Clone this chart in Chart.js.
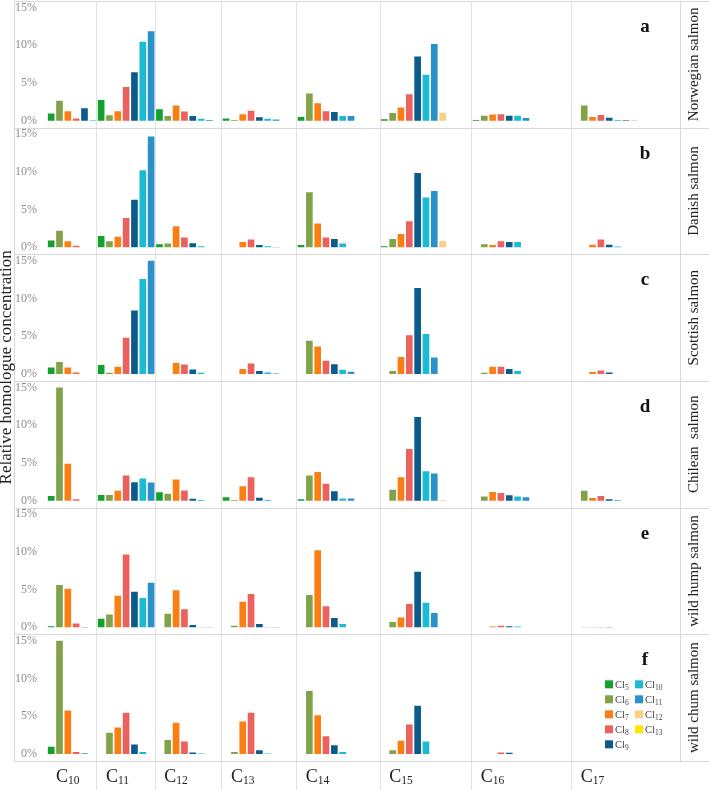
<!DOCTYPE html>
<html><head><meta charset="utf-8">
<script src="https://cdn.jsdelivr.net/npm/chart.js@4/dist/chart.umd.min.js"></script>
<style>html,body{margin:0;padding:0;background:#fff;}#wrap{width:709px;height:790px;}</style>
</head><body><div id="wrap"><canvas id="c" width="709" height="790" style="width:709px;height:790px"></canvas></div>
<script>
// ---- data ----
const categories = ['C10','C11','C12','C13','C14','C15','C16','C17'];
const carbonNumbers = [10,11,12,13,14,15,16,17];
const series = ['Cl5','Cl6','Cl7','Cl8','Cl9','Cl10','Cl11','Cl12','Cl13'];
const chlorineNumbers = [5,6,7,8,9,10,11,12,13];
const seriesColors = ['#12a12a','#82a24a','#fb7e12','#ea615e','#0b5b8b','#1bbbd4','#2b92c9','#fece82','#ffe600'];
const panelNames = ['Norwegian salmon','Danish salmon','Scottish salmon','Chilean  salmon','wild hump salmon','wild chum salmon'];
const panelLetters = ['a','b','c','d','e','f'];
const yTickValues = [0,5,10,15];

// rows: C10..C17, columns: Cl5..Cl13 (relative concentration, %)
const norwegian = [
  [0.95,2.65,1.25,0.3,1.65,0.05],
  [2.75,0.7,1.25,4.45,6.4,10.45,11.85],
  [1.5,0.6,2.0,1.2,0.6,0.25,0.1],
  [0.3,0.1,0.85,1.3,0.45,0.25,0.15],
  [0.5,3.6,2.3,1.25,1.15,0.6,0.6],
  [0.2,1.0,1.75,3.5,8.5,6.1,10.15,1.05],
  [0.1,0.65,0.8,0.85,0.65,0.65,0.35],
  [null,2.0,0.5,0.75,0.4,0.1,0.1,0.08]
];
const danish = [
  [0.9,2.2,0.8,0.2],
  [1.5,0.8,1.4,3.9,6.3,10.2,14.7],
  [0.4,0.5,2.8,1.3,0.55,0.15],
  [null,null,0.7,1.05,0.3,0.15,0.05],
  [0.3,7.3,3.15,1.3,1.1,0.5],
  [0.15,1.1,1.75,3.45,9.85,6.6,7.45,0.85],
  [null,0.4,0.3,0.8,0.7,0.7],
  [null,null,0.35,1.05,0.35,0.1]
];
const scottish = [
  [0.85,1.6,0.85,0.2],
  [1.2,0.15,0.95,4.8,8.4,12.6,15.0],
  [null,null,1.45,1.25,0.6,0.15],
  [null,null,0.65,1.4,0.4,0.2,0.08],
  [null,4.4,3.65,1.75,1.3,0.55,0.3],
  [null,0.4,2.25,5.15,11.4,5.3,2.2],
  [null,0.15,0.95,0.95,0.65,0.4],
  [null,null,0.25,0.45,0.2]
];
const chilean = [
  [0.6,15.0,4.9,0.2],
  [0.75,0.75,1.3,3.35,2.45,2.95,2.4],
  [1.1,0.9,2.8,1.35,0.25,0.1],
  [0.45,0.1,1.9,3.1,0.4,0.1],
  [0.2,3.35,3.8,2.25,1.25,0.3,0.3],
  [null,1.45,3.1,6.85,11.1,3.9,3.6,0.1],
  [null,0.55,1.15,1.0,0.7,0.55,0.45],
  [null,1.3,0.35,0.6,0.2,0.1]
];
const wildHump = [
  [0.15,5.6,5.1,0.5,0.05],
  [1.15,1.7,4.2,9.65,4.7,3.9,5.9],
  [null,1.8,4.9,2.4,0.3,0.05,0.05],
  [null,0.2,3.4,4.4,0.45,0.05,0.05],
  [null,4.3,10.2,2.8,1.25,0.45],
  [null,0.7,1.3,3.1,7.35,3.25,1.9],
  [null,null,0.1,0.2,0.15,0.1],
  [null,0.05,0.05,0.05,0.05]
];
const wildChum = [
  [0.95,15.0,5.75,0.25,0.05],
  [null,2.8,3.5,5.45,1.25,0.25],
  [null,1.85,4.15,1.65,0.2,0.05],
  [null,0.25,4.3,5.45,0.5,0.05],
  [null,8.35,5.15,2.35,1.15,0.25],
  [null,0.5,1.75,3.9,6.4,1.65],
  [null,null,null,0.2,0.15],
  []
];
const panelTables = [norwegian, danish, scottish, chilean, wildHump, wildChum];

// ---- slots: each carbon group has one slot per possible chlorine number (Cl5..Cl_n) ----
const slots = [];
carbonNumbers.forEach((n, ci) => { for (let cl = 5; cl <= n; cl++) slots.push({ci, cl}); });
const groupStart = categories.map((_, ci) => slots.findIndex(s => s.ci === ci));
const boundarySet = new Set(groupStart.filter(i => i > 0));

const datasets = [];
panelTables.forEach((tbl, p) => {
  chlorineNumbers.forEach((cl, si) => {
    datasets.push({
      label: series[si],
      xAxisID: 'x',
      yAxisID: 'y' + p,
      backgroundColor: seriesColors[si],
      borderWidth: 0,
      grouped: false,
      barPercentage: 0.8,
      categoryPercentage: 1,
      data: slots.map(s => s.cl === cl ? (tbl[s.ci][si] ?? null) : null)
    });
  });
});

const serif = "'Liberation Serif','Times New Roman',serif";
const scales = {
  x: {
    type: 'category',
    labels: slots.map(s => categories[s.ci] + '-' + series[s.cl - 5]),
    offset: true,
    ticks: {display: false, autoSkip: false},
    border: {display: false},
    grid: {
      offset: true, drawTicks: true, tickLength: 29, lineWidth: 1,
      color: ctx => (ctx.index !== undefined && boundarySet.has(ctx.index)) ? '#e2e2e2' : 'rgba(0,0,0,0)'
    }
  }
};
for (let p = panelNames.length - 1; p >= 0; p--) {
  scales['y' + p] = {
    type: 'linear', position: 'left', stack: 'panels', stackWeight: 1,
    min: -0.93, max: 15.86,
    afterBuildTicks: ax => { ax.ticks = yTickValues.map(v => ({value: v})); },
    afterFit: ax => { ax.width = 47; ax.paddingTop = 0; ax.paddingBottom = 0; },
    ticks: {callback: v => v + '%', color: '#8d8d8d', font: {family: serif, size: 12}, padding: 10},
    grid: {display: false, drawTicks: false},
    border: {display: false}
  };
}

const frameLeft = 14;
const decor = {
  id: 'decor',
  afterDraw(chart) {
    const ctx = chart.ctx, ca = chart.chartArea, xs = chart.scales.x;
    const axes = panelNames.map((_, p) => chart.scales['y' + p]);
    ctx.save();
    // frame and panel separators
    ctx.strokeStyle = '#d8d8d8'; ctx.lineWidth = 1;
    ctx.beginPath();
    axes.forEach(ax => { const y = Math.round(ax.top) + 0.5; ctx.moveTo(frameLeft, y); ctx.lineTo(chart.width, y); });
    const yb = Math.round(ca.bottom) + 0.5;
    ctx.moveTo(frameLeft, yb); ctx.lineTo(chart.width, yb);
    ctx.moveTo(frameLeft + 0.5, ca.top); ctx.lineTo(frameLeft + 0.5, ca.bottom);
    const xr = Math.round(ca.right) + 0.5;
    ctx.moveTo(xr, ca.top); ctx.lineTo(xr, ca.bottom);
    ctx.stroke();

    // panel letters and row labels
    axes.forEach((ax, p) => {
      ctx.fillStyle = '#111';
      ctx.font = 'bold 19px ' + serif;
      ctx.textAlign = 'center'; ctx.textBaseline = 'alphabetic';
      ctx.fillText(panelLetters[p], ca.right - 35, ax.top + 31);
      ctx.save();
      ctx.translate(694, (ax.top + ax.bottom) / 2);
      ctx.rotate(-Math.PI / 2);
      ctx.font = '15px ' + serif; ctx.fillStyle = '#222';
      ctx.textBaseline = 'middle'; ctx.textAlign = 'center';
      ctx.fillText(panelNames[p], 0, 0);
      ctx.restore();
    });

    // y title
    ctx.save();
    ctx.translate(7, ca.top + (ca.bottom - ca.top) * 0.482);
    ctx.rotate(-Math.PI / 2);
    ctx.font = '17px ' + serif; ctx.fillStyle = '#222';
    ctx.textBaseline = 'middle'; ctx.textAlign = 'center';
    ctx.fillText('Relative homologue concentration', 0, 0);
    ctx.restore();

    // x category labels with subscripts
    const slotW = xs.getPixelForValue(1) - xs.getPixelForValue(0);
    categories.forEach((c, ci) => {
      const x0 = xs.getPixelForValue(groupStart[ci]) - slotW / 2 + 9;
      ctx.fillStyle = '#222'; ctx.textAlign = 'left'; ctx.textBaseline = 'alphabetic';
      ctx.font = '18px ' + serif;
      ctx.fillText(c[0], x0, ca.bottom + 21);
      const w = ctx.measureText(c[0]).width;
      ctx.font = '11.5px ' + serif;
      ctx.fillText(c.slice(1), x0 + w, ca.bottom + 23);
    });

    // legend in the last panel
    const lp = axes[axes.length - 1];
    series.forEach((s, si) => {
      const col = si < 5 ? 0 : 1, row = si < 5 ? si : si - 5;
      const sx = ca.right - 75 + col * 30, sy = lp.top + 46 + row * 15;
      ctx.fillStyle = seriesColors[si];
      ctx.fillRect(sx, sy, 8, 8);
      ctx.fillStyle = '#444'; ctx.textAlign = 'left'; ctx.textBaseline = 'alphabetic';
      ctx.font = '10.5px ' + serif;
      ctx.fillText('Cl', sx + 10, sy + 8);
      const w = ctx.measureText('Cl').width;
      ctx.font = '7.5px ' + serif;
      ctx.fillText(s.slice(2), sx + 10 + w, sy + 10);
    });
    ctx.restore();
  }
};

new Chart(document.getElementById('c'), {
  type: 'bar',
  data: {labels: scales.x.labels, datasets},
  options: {
    responsive: false, animation: false, devicePixelRatio: 1,
    layout: {padding: {top: 1, right: 29, left: 0, bottom: 0}},
    plugins: {legend: {display: false}, tooltip: {enabled: false}},
    scales
  },
  plugins: [decor]
});
</script></body></html>
